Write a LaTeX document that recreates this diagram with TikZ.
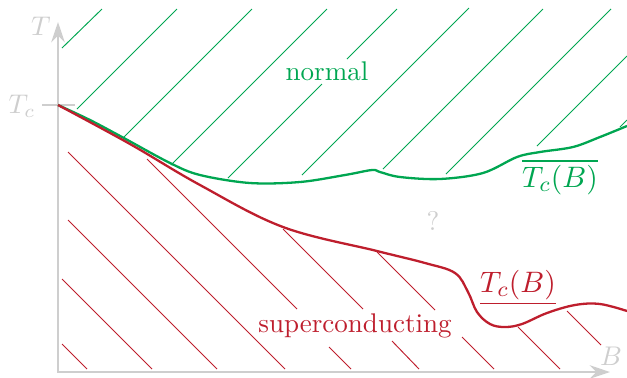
\documentclass[tikz,border=0pt]{standalone}
\usetikzlibrary{arrows.meta}
\definecolor{ngreen}{RGB}{0,166,81}
\definecolor{sred}{RGB}{190,30,45}
\definecolor{axgray}{RGB}{206,206,206}
\begin{document}
\begin{tikzpicture}[x=0.37pt,y=-0.37pt,
  hatchg/.style={ngreen, line width=0.35pt},
  hatchr/.style={sred, line width=0.35pt},
  curveg/.style={ngreen, line width=0.85pt},
  curver/.style={sred, line width=0.85pt},
  axis/.style={axgray, line width=0.8pt},
  lbl/.style={text=axgray, inner sep=0pt, anchor=base},
  mlbl/.style={anchor=base, font=\fontsize{11}{13}\selectfont}]
\useasboundingbox (0,0) rectangle (627,377);
% axes
\draw[axis, {Stealth[length=7.5pt,width=5pt]}-{Stealth[length=7.5pt,width=5pt]}] (58,22) -- (58,372) -- (610,372);
\draw[axis] (42,105) -- (75,105);
\node[lbl] (tlab) at (41,35) {$T$};
\node[lbl] (tclab) at (22,113) {$T_c$};
\node[lbl] (blab) at (611,365) {$B$};
\node[lbl] (qlab) at (433,230) {?};
% green hatching
\draw[hatchg] (62,48) -- (102,9);
\draw[hatchg] (77,109) -- (177,9);
\draw[hatchg] (123,138) -- (252,9);
\draw[hatchg] (171,165) -- (327,9);
\draw[hatchg] (228,178) -- (322,84);
\draw[hatchg] (347,59) -- (397,9);
\draw[hatchg] (302,175) -- (469,8);
\draw[hatchg] (383,169) -- (543,9);
\draw[hatchg] (446,174) -- (611,9);
\draw[hatchg] (537,146) -- (627,56);
\draw[hatchg] (620,127) -- (627,120);
% red hatching
\draw[hatchr] (62,344) -- (87,369);
\draw[hatchr] (62,279) -- (152,369);
\draw[hatchr] (68,220) -- (217,369);
\draw[hatchr] (68,152) -- (285,369);
\draw[hatchr] (147,159) -- (297,309);
\draw[hatchr] (329,347) -- (351,369);
\draw[hatchr] (283,229) -- (363,309);
\draw[hatchr] (392,341) -- (419,369);
\draw[hatchr] (377,252) -- (435,310);
\draw[hatchr] (462,337) -- (494,369);
\draw[hatchr] (518,327) -- (560,369);
\draw[hatchr] (567,311) -- (601,345);
% curves
\draw[curveg] plot[smooth, tension=0.55] coordinates {(58,105) (90,120) (122,137) (170,163) (200,175) (250,183) (300,182) (345,175) (372,170) (380,172) (400,177) (440,179) (483,173) (517,157) (540,152) (573,147) (600,137) (627,126)};
\draw[curver] plot[smooth, tension=0.6] coordinates {(58,105) (130,144) (200,185) (283,227) (377,251) (425,263) (455,273) (468,292) (477,312) (490,324) (505,327) (522,324) (547,313) (575,305) (600,304) (627,311)};
% labels
\node[text=ngreen, anchor=base] (normal) at (327,80) {normal};
\node[text=sred, anchor=base] (sc) at (355,332) {superconducting};
\node[text=ngreen, mlbl] (tcg) at (560,187) {$\overline{T_c(B)}$};
\node[text=sred, mlbl] (tcr) at (518,292) {$\underline{T_c(B)}$};
\end{tikzpicture}
\end{document}
